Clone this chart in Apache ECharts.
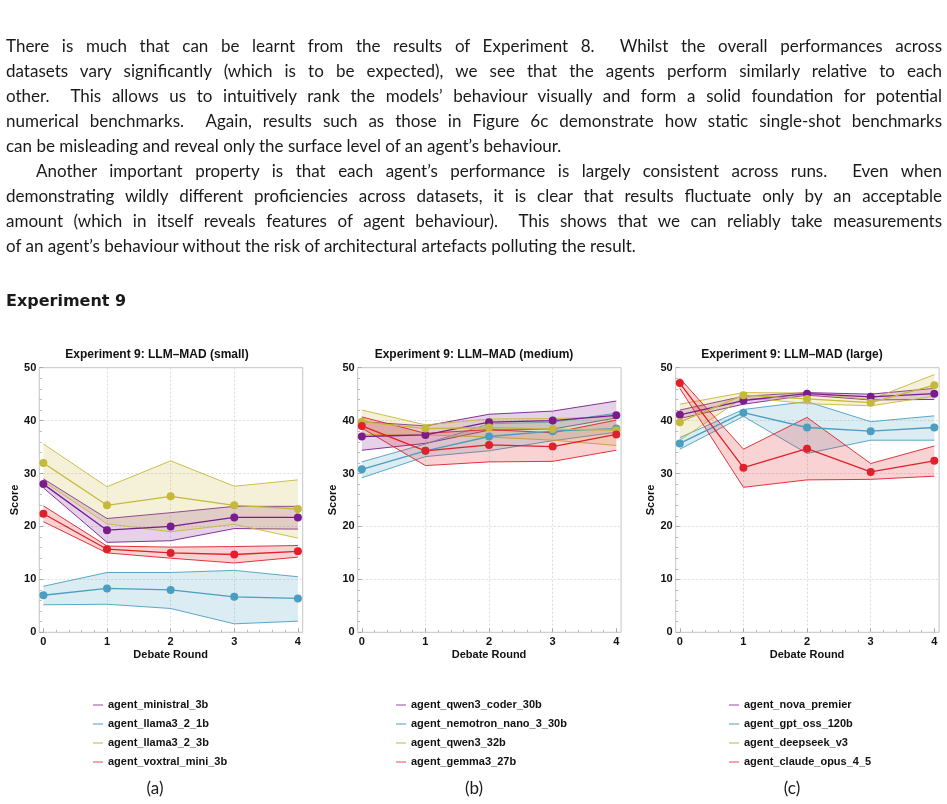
<!DOCTYPE html>
<html lang="en">
<head>
<meta charset="UTF-8">
<title>Experiment 9</title>
<script src="https://cdn.jsdelivr.net/npm/echarts@6/dist/echarts.min.js"></script>
<style>
    body {
        margin: 0;
        width: 947px;
        height: 804px;
        background: #fff;
        position: relative;
        overflow: hidden;
    }
    #chart {
        position: absolute;
        left: 0;
        top: 0;
        width: 947px;
        height: 804px;
    }
    #text {
        position: absolute;
        left: 6px;
        top: 33px;
        width: 936px;
        font-family: Lato, sans-serif;
        font-size: 17px;
        line-height: 25px;
        color: #1a1a1a;
        z-index: 2;
    }
    #text div {
        text-align: justify;
        text-align-last: justify;
    }
    #text div.last {
        text-align-last: left;
    }
    #text div.indent {
        text-indent: 30px;
    }
    #heading {
        position: absolute;
        left: 6px;
        top: 291px;
        font-family: 'DejaVu Sans', sans-serif;
        font-weight: bold;
        font-size: 16px;
        line-height: 20px;
        color: #1a1a1a;
        z-index: 2;
    }
    .cap {
        position: absolute;
        top: 778px;
        width: 60px;
        text-align: center;
        font-family: Lato, sans-serif;
        font-size: 17px;
        line-height: 20px;
        color: #1a1a1a;
        z-index: 2;
    }
</style>
</head>
<body>
<div id="chart"></div>
<div id="text">
    <div>There is much that can be learnt from the results of Experiment 8. &nbsp;Whilst the overall performances across</div>
    <div>datasets vary significantly (which is to be expected), we see that the agents perform similarly relative to each</div>
    <div>other. &nbsp;This allows us to intuitively rank the models’ behaviour visually and form a solid foundation for potential</div>
    <div>numerical benchmarks. &nbsp;Again, results such as those in Figure 6c demonstrate how static single-shot benchmarks</div>
    <div class="last">can be misleading and reveal only the surface level of an agent’s behaviour.</div>
    <div class="indent">Another important property is that each agent’s performance is largely consistent across runs. &nbsp;Even when</div>
    <div>demonstrating wildly different proficiencies across datasets, it is clear that results fluctuate only by an acceptable</div>
    <div>amount (which in itself reveals features of agent behaviour). &nbsp;This shows that we can reliably take measurements</div>
    <div class="last">of an agent’s behaviour without the risk of architectural artefacts polluting the result.</div>
</div>
<div id="heading">Experiment 9</div>
<div class="cap" style="left:125px;">(a)</div>
<div class="cap" style="left:444px;">(b)</div>
<div class="cap" style="left:762px;">(c)</div>
<script type="text/javascript">
// debate rounds on the x axis
var rounds = [0, 1, 2, 3, 4];
var panelTitles = ['Experiment 9: LLM\u2013MAD (small)', 'Experiment 9: LLM\u2013MAD (medium)', 'Experiment 9: LLM\u2013MAD (large)'];

// small models
var agentsSmall = ['agent_ministral_3b', 'agent_llama3_2_1b', 'agent_llama3_2_3b', 'agent_voxtral_mini_3b'];
var meanSmall = [
    [28.0, 19.3, 20.0, 21.7, 21.7],
    [7.0, 8.3, 8.0, 6.7, 6.4],
    [32.0, 24.0, 25.7, 24.0, 23.3],
    [22.4, 15.7, 15.0, 14.7, 15.3]
];
var lowSmall = [
    [27.3, 17.0, 17.3, 19.6, 19.5],
    [5.2, 5.3, 4.5, 1.6, 2.1],
    [28.5, 20.5, 19.0, 20.4, 17.8],
    [20.9, 15.0, 14.0, 13.1, 14.2]
];
var highSmall = [
    [29.0, 21.5, 22.6, 23.8, 23.8],
    [8.7, 11.3, 11.3, 11.7, 10.5],
    [35.6, 27.5, 32.4, 27.6, 28.8],
    [23.9, 16.3, 16.1, 16.2, 16.4]
];

// medium models
var agentsMedium = ['agent_qwen3_coder_30b', 'agent_nemotron_nano_3_30b', 'agent_qwen3_32b', 'agent_gemma3_27b'];
var meanMedium = [
    [37.0, 37.3, 39.7, 40.0, 41.0],
    [30.8, 34.3, 37.0, 38.0, 38.5],
    [39.8, 38.5, 38.7, 38.4, 38.2],
    [39.0, 34.3, 35.4, 35.1, 37.4]
];
var lowMedium = [
    [34.4, 35.7, 38.2, 38.4, 40.5],
    [29.2, 33.2, 34.3, 36.2, 37.8],
    [37.4, 37.3, 36.9, 36.3, 35.3],
    [38.6, 31.5, 32.2, 32.3, 34.4]
];
var highMedium = [
    [39.8, 39.0, 41.2, 41.8, 43.7],
    [32.2, 35.6, 39.4, 39.7, 41.4],
    [42.0, 39.2, 40.3, 40.4, 40.7],
    [40.7, 37.6, 38.3, 37.7, 40.1]
];

// large models
var agentsLarge = ['agent_nova_premier', 'agent_gpt_oss_120b', 'agent_deepseek_v3', 'agent_claude_opus_4_5'];
var meanLarge = [
    [41.1, 43.8, 45.1, 44.5, 45.1],
    [35.7, 41.5, 38.7, 38.0, 38.7],
    [39.7, 44.8, 44.1, 43.4, 46.7],
    [47.1, 31.1, 34.7, 30.3, 32.4]
];
var lowLarge = [
    [40.4, 43.1, 44.8, 43.9, 44.0],
    [34.6, 40.8, 33.8, 36.3, 36.3],
    [36.3, 44.4, 43.2, 42.8, 44.6],
    [46.1, 27.4, 28.8, 28.9, 29.5]
];
var highLarge = [
    [42.0, 44.6, 45.3, 45.0, 46.1],
    [36.8, 42.1, 43.6, 39.8, 40.9],
    [43.1, 45.3, 45.2, 44.0, 48.7],
    [48.0, 34.6, 40.6, 31.9, 35.2]
];

var panels = [
    {agents: agentsSmall, mean: meanSmall, low: lowSmall, high: highSmall},
    {agents: agentsMedium, mean: meanMedium, low: lowMedium, high: highMedium},
    {agents: agentsLarge, mean: meanLarge, low: lowLarge, high: highLarge}
];

var FONT = "'Liberation Sans', Arial, sans-serif";
var colors = ['#7b1c8e', '#4a9ec0', '#c6b83a', '#e0202a'];
var pastel = ['#caa4d2', '#a4cfe0', '#e0da9c', '#f2a4a7'];

// layout of the three frames
var frameLeft = [39.3, 357.7, 675.7];
var frameWidth = 263.4;
var frameTop = 367.7;
var frameHeight = 264.6;
var dataOffset = 4.1;
var dataWidth = 254.5;
var titleCenter = [157, 474, 792];
var legendLeft = [88, 391, 724];

var labelStyle = {fontFamily: FONT, fontWeight: 'bold', fontSize: 11, color: '#111'};

// band between low and high, drawn once as a polygon with its two edges
function renderBand(params, api) {
    if (params.dataIndexInside !== 0) return;
    var n = params.dataInsideLength;
    var upper = [], lower = [];
    for (var i = 0; i < n; i++) {
        upper.push(api.coord([api.value(0, i), api.value(2, i)]));
        lower.push(api.coord([api.value(0, i), api.value(1, i)]));
    }
    var c = api.visual('color');
    return {
        type: 'group',
        children: [
            {type: 'polygon', shape: {points: upper.concat(lower.slice().reverse())},
                style: {fill: c, opacity: 0.2}},
            {type: 'polyline', shape: {points: upper},
                style: {stroke: c, lineWidth: 1, fill: null, opacity: 0.9}},
            {type: 'polyline', shape: {points: lower},
                style: {stroke: c, lineWidth: 1, fill: null, opacity: 0.9}}
        ]
    };
}

var grid = [], xAxis = [], yAxis = [], series = [], title = [], legend = [];

for (var k = 0; k < 3; k++) {
    var p = panels[k];
    // frame grid: carries the y axis
    grid.push({
        left: frameLeft[k], top: frameTop, width: frameWidth, height: frameHeight,
        show: true, borderColor: '#c4c4c4', borderWidth: 1, backgroundColor: 'transparent'
    });
    // data grid: carries the x axis and the series
    grid.push({
        left: frameLeft[k] + dataOffset, top: frameTop, width: dataWidth, height: frameHeight
    });
    xAxis.push({type: 'value', gridIndex: 2 * k, min: 0, max: 1, show: false});
    xAxis.push({
        type: 'value', gridIndex: 2 * k + 1, min: 0, max: 4, interval: 1,
        axisLine: {show: false},
        axisTick: {show: true, inside: true, length: 4, lineStyle: {color: '#aaa'}},
        minorTick: {show: true, splitNumber: 5, length: 2.5, lineStyle: {color: '#bbb'}},
        axisLabel: Object.assign({margin: 4}, labelStyle),
        splitLine: {show: true, showMinLine: false, showMaxLine: false, lineStyle: {type: [2, 2], color: '#dcdcdc'}},
        name: 'Debate Round', nameLocation: 'middle', nameGap: 17,
        nameTextStyle: labelStyle
    });
    yAxis.push({
        type: 'value', gridIndex: 2 * k, min: 0, max: 50, interval: 10,
        axisLine: {show: false},
        axisTick: {show: true, inside: true, length: 4, lineStyle: {color: '#aaa'}},
        minorTick: {show: true, splitNumber: 5, length: 2.5, lineStyle: {color: '#bbb'}},
        axisLabel: Object.assign({margin: 3}, labelStyle),
        splitLine: {show: true, showMinLine: false, showMaxLine: false, lineStyle: {type: [2, 2], color: '#dcdcdc'}},
        name: 'Score', nameLocation: 'middle', nameGap: 19, nameRotate: 90,
        nameTextStyle: labelStyle
    });
    yAxis.push({type: 'value', gridIndex: 2 * k + 1, min: 0, max: 50, show: false});

    title.push({
        text: panelTitles[k], left: titleCenter[k] - 5, top: 344, textAlign: 'center',
        textStyle: {fontFamily: FONT, fontWeight: 'bold', fontSize: 12, color: '#111'}
    });

    legend.push({
        orient: 'vertical', left: legendLeft[k], top: 693,
        itemWidth: 10, itemHeight: 2, itemGap: 5, icon: 'rect', selectedMode: false,
        textStyle: {fontFamily: FONT, fontWeight: 'bold', fontSize: 11, color: '#111', lineHeight: 14},
        data: p.agents.map(function (a, j) {
            return {name: a, itemStyle: {color: pastel[j]}};
        })
    });

    for (var j = 0; j < p.agents.length; j++) {
        var c = colors[j];
        var lo = p.low[j], hi = p.high[j], mu = p.mean[j];
        // spread band
        series.push({
            type: 'custom', name: p.agents[j] + ' band', xAxisIndex: 2 * k + 1, yAxisIndex: 2 * k + 1,
            renderItem: renderBand, silent: true, z: 2,
            itemStyle: {color: c},
            encode: {x: 0, y: [1, 2]},
            data: rounds.map(function (x, i) { return [x, lo[i], hi[i]]; })
        });
        // mean
        series.push({
            type: 'line', name: p.agents[j], xAxisIndex: 2 * k + 1, yAxisIndex: 2 * k + 1,
            symbol: 'circle', symbolSize: 8, z: 4,
            itemStyle: {color: c},
            lineStyle: {width: 1.3, color: c},
            data: rounds.map(function (x, i) { return [x, mu[i]]; })
        });
    }
}

var myChart = echarts.init(document.getElementById('chart'));
myChart.setOption({
    animation: false,
    title: title,
    legend: legend,
    grid: grid,
    xAxis: xAxis,
    yAxis: yAxis,
    series: series
});
</script>
</body>
</html>
